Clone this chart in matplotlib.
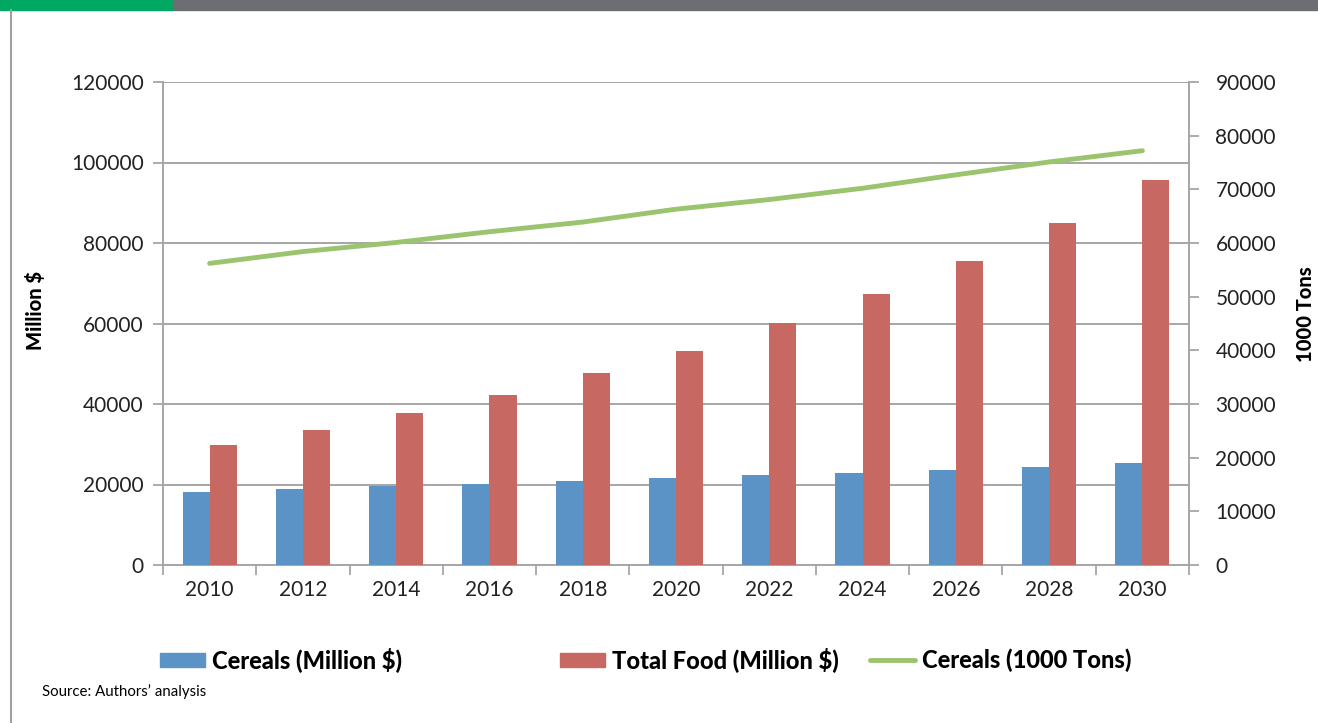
import numpy as np
import matplotlib.pyplot as plt
from matplotlib.patches import Rectangle, Patch
from matplotlib.lines import Line2D

# Data
years = ["2010", "2012", "2014", "2016", "2018", "2020",
         "2022", "2024", "2026", "2028", "2030"]
cereals_musd = [18100, 18900, 19600, 20100, 20800, 21600,
                22300, 22800, 23500, 24300, 25300]
total_food_musd = [29800, 33600, 37800, 42300, 47700, 53200,
                   60100, 67300, 75500, 85000, 95600]
cereals_ktons = [56200, 58400, 60100, 62100, 63900, 66300,
                 68100, 70200, 72700, 75100, 77200]

left_ticks = [0, 20000, 40000, 60000, 80000, 100000, 120000]
right_ticks = [0, 10000, 20000, 30000, 40000, 50000, 60000, 70000, 80000, 90000]

BLUE = "#5B93C6"
RED = "#C86862"
GREEN = "#9BC46F"
GRID = "#A6A6A6"
TXT = "#222222"

FONT = "Lato"
plt.rcParams["font.family"] = [FONT, "DejaVu Sans"]

W, H = 1318, 723
fig = plt.figure(figsize=(W / 100, H / 100), dpi=100)

# page decoration: top bar and left border
fig.patches.append(Rectangle((0, 1 - 10 / H), 173 / W, 10 / H, transform=fig.transFigure,
                             color="#00A862", zorder=0))
fig.patches.append(Rectangle((173 / W, 1 - 10 / H), 1 - 173 / W, 10 / H,
                             transform=fig.transFigure, color="#6D6E72", zorder=0))
fig.add_artist(Line2D([10.5 / W, 10.5 / W], [0, 1 - 10 / H], transform=fig.transFigure,
                      color="#A0A0A0", lw=1.5))

ax = fig.add_axes([163 / W, 1 - 565 / H, (1189 - 163) / W, (565 - 82) / H])
x = np.arange(len(years))
bw = 0.29
ax.bar(x - bw / 2, cereals_musd, bw, color=BLUE, zorder=3)
ax.bar(x + bw / 2, total_food_musd, bw, color=RED, zorder=3)

ax.set_xlim(-0.5, len(years) - 0.5)
ax.set_ylim(0, 120000)
ax.set_yticks(left_ticks)
ax.set_yticklabels([str(v) for v in left_ticks])
ax.set_xticks(x)
ax.set_xticklabels(years)
ax.set_xticks(np.arange(-0.5, len(years)), minor=True)
ax.tick_params(axis="x", which="major", length=0, pad=11, labelsize=15, labelcolor=TXT)
ax.tick_params(axis="x", which="minor", length=7, color=GRID, width=1.3)
ax.tick_params(axis="y", length=7, color=GRID, width=1.3, pad=7, labelsize=15,
               labelcolor=TXT)
ax.grid(axis="y", color=GRID, lw=1.4, zorder=0)
for side in ("top", "right"):
    ax.spines[side].set_visible(False)
for side in ("left", "bottom"):
    ax.spines[side].set_color(GRID)
    ax.spines[side].set_linewidth(1.4)
ax.set_ylabel("Million $", fontsize=14.5, fontweight="black")
ax.yaxis.set_label_coords(-0.115, 0.526)

ax2 = ax.twinx()
ax2.plot(x, cereals_ktons, color=GREEN, lw=3.5, solid_capstyle="round", zorder=4)
ax2.set_ylim(0, 90000)
ax2.set_yticks(right_ticks)
ax2.set_yticklabels([str(v) for v in right_ticks])
ax2.tick_params(axis="y", length=7, color=GRID, width=1.3, pad=12, labelsize=15,
                labelcolor=TXT)
for side in ("top", "left", "bottom"):
    ax2.spines[side].set_visible(False)
ax2.spines["right"].set_color(GRID)
ax2.spines["right"].set_linewidth(1.4)
ax2.set_ylabel("1000 Tons", fontsize=14.5, fontweight="black", rotation=90)
ax2.yaxis.set_label_coords(1.104, 0.52)

# legend entries positioned like the original
entries = [
    (Patch(color=BLUE), "Cereals (Million $)", 160),
    (Patch(color=RED), "Total Food (Million $)", 560),
    (Line2D([], [], color=GREEN, lw=3.5, solid_capstyle="round"), "Cereals (1000 Tons)", 870),
]
for handle, label, px in entries:
    fig.legend([handle], [label], loc="center left",
               bbox_to_anchor=(px / W, 1 - 660 / H), frameon=False,
               borderpad=0, borderaxespad=0, handlelength=1.9, handleheight=0.55,
               handletextpad=0.3, prop={"family": FONT, "weight": "black", "size": 17})

fig.text(42 / W, 1 - 692 / H, "Source: Authors\u2019 analysis", fontsize=10.8,
         va="center", ha="left")

fig.savefig("out.png", dpi=100)
plt.close(fig)
